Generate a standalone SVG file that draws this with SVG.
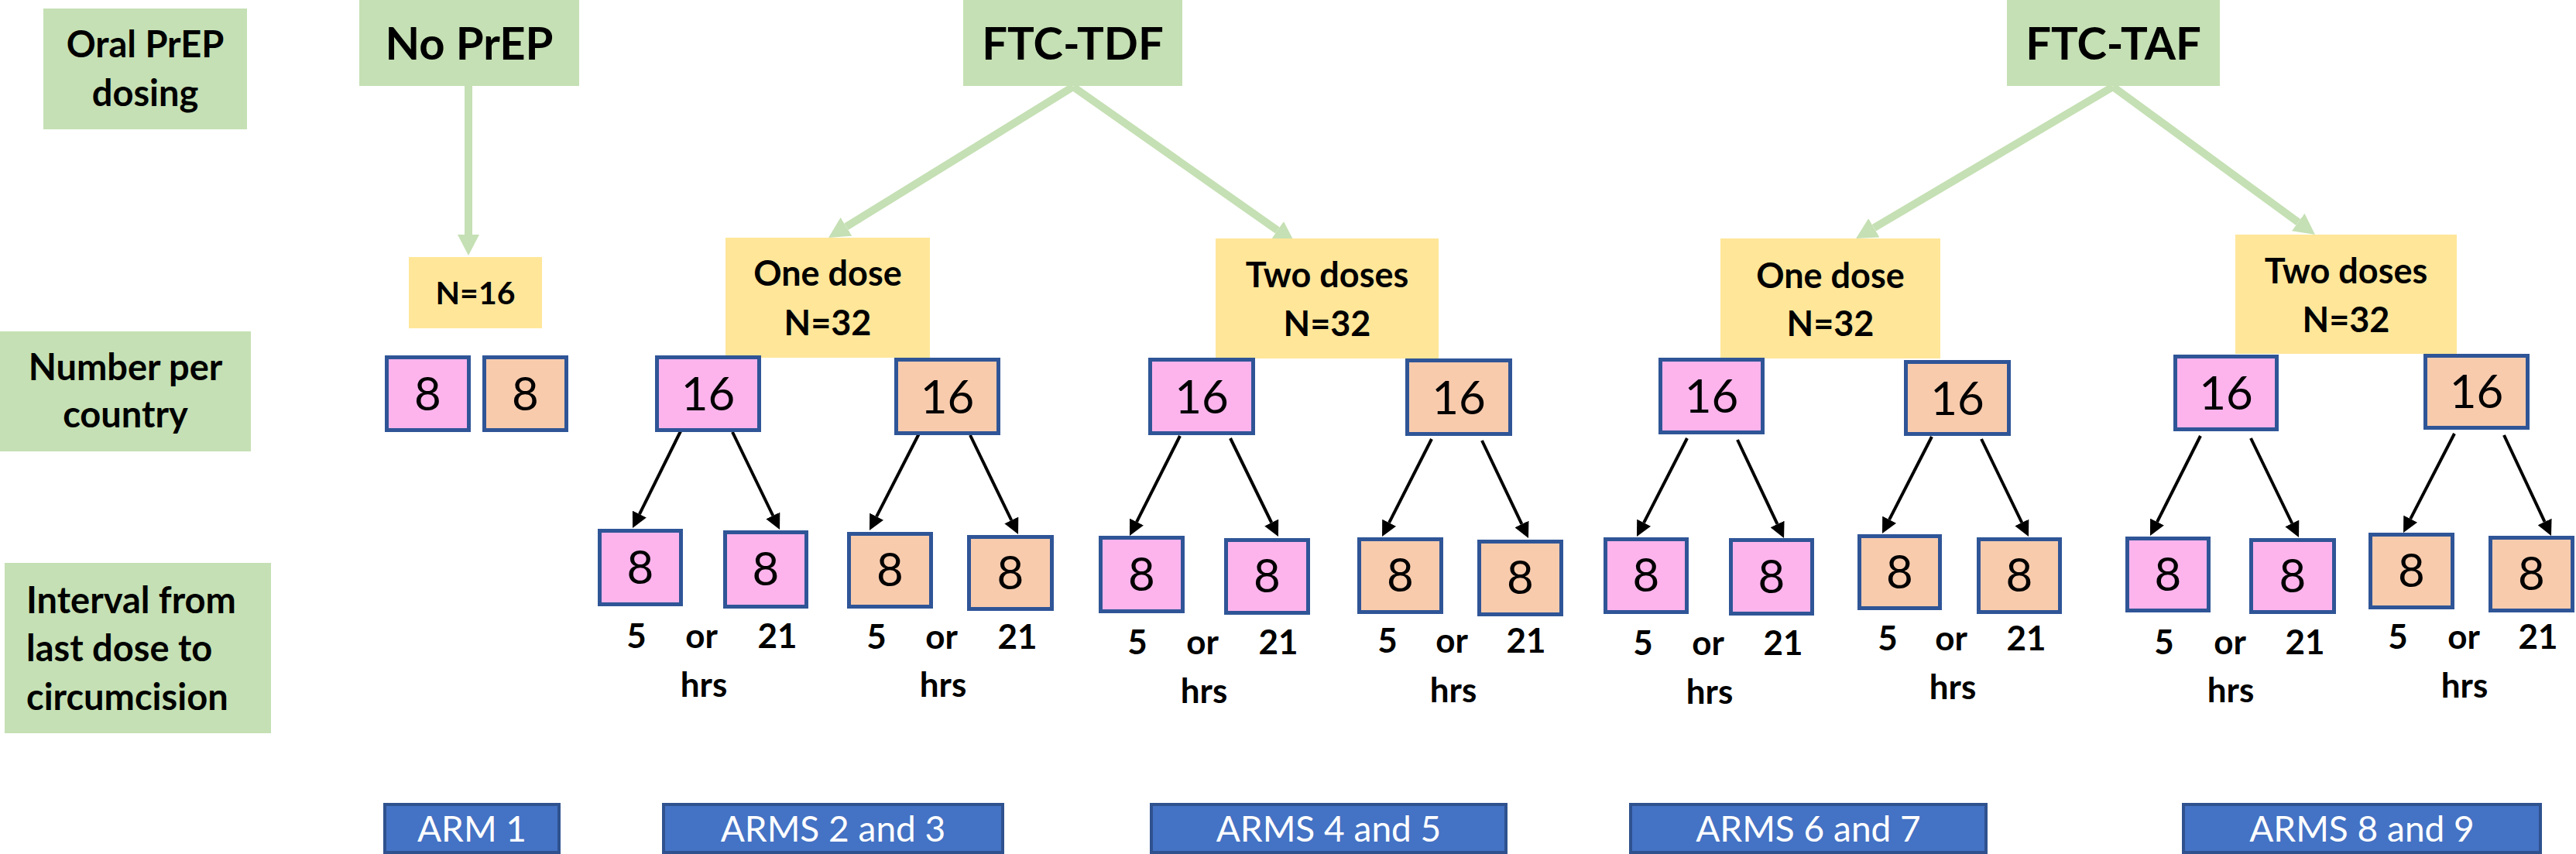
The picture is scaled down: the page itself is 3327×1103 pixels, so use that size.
<svg xmlns="http://www.w3.org/2000/svg" width="3327" height="1103" viewBox="0 0 3327 1103">
<defs>
<style>
.g{fill:#C5E0B4}
.y{fill:#FFE699}
.pk{fill:#FDB4EC;stroke:#2F5597;stroke-width:5}
.pc{fill:#F8CBAD;stroke:#2F5597;stroke-width:5}
.arm{fill:#4472C4;stroke:#2F528F;stroke-width:4}
text{font-family:Lato,"Open Sans","Liberation Sans",sans-serif;fill:#000}
.b{font-weight:700}
.c{text-anchor:middle}
.row{font-size:47px}
.big{font-size:58px}
.ys{font-size:45px}
.num{font-size:60px;text-anchor:middle}
.hr{font-size:44px;font-weight:700;text-anchor:middle}
.at{font-size:46px;fill:#fff;text-anchor:middle}
.ga{stroke:#C5E0B4;stroke-width:10;fill:none}
.ba{stroke:#000;stroke-width:4;fill:none}
</style>
<marker id="gh" markerUnits="userSpaceOnUse" markerWidth="27" markerHeight="28" viewBox="0 0 27 28" refX="0" refY="14" orient="auto"><path d="M0,0 L27,14 L0,28 z" fill="#C5E0B4"/></marker>
<marker id="bh" markerUnits="userSpaceOnUse" markerWidth="20" markerHeight="20" viewBox="0 0 20 20" refX="0" refY="10" orient="auto"><path d="M0,0 L20,10 L0,20 z" fill="#000"/></marker>
</defs>
<rect width="3327" height="1103" fill="#fff"/>

<g id="connectors">
<line class="ga" x1="605" y1="111" x2="605" y2="303" marker-end="url(#gh)"/>
<line class="ga" x1="1386" y1="112" x2="1093" y2="292.8" marker-end="url(#gh)"/>
<line class="ga" x1="1386" y1="112" x2="1649.9" y2="297.5" marker-end="url(#gh)"/>
<line class="ga" x1="2729" y1="112" x2="2420.3" y2="294.3" marker-end="url(#gh)"/>
<line class="ga" x1="2729" y1="112" x2="2968.2" y2="287" marker-end="url(#gh)"/>
<line class="ba" x1="880" y1="555" x2="825.9" y2="664.1" marker-end="url(#bh)"/>
<line class="ba" x1="946" y1="558" x2="998.3" y2="666" marker-end="url(#bh)"/>
<line class="ba" x1="1187" y1="560" x2="1132.1" y2="667.2" marker-end="url(#bh)"/>
<line class="ba" x1="1253" y1="562" x2="1306.3" y2="672" marker-end="url(#bh)"/>
<line class="ba" x1="1524" y1="563" x2="1468" y2="674.1" marker-end="url(#bh)"/>
<line class="ba" x1="1589" y1="566" x2="1642.2" y2="675" marker-end="url(#bh)"/>
<line class="ba" x1="1849" y1="567" x2="1794.1" y2="675.2" marker-end="url(#bh)"/>
<line class="ba" x1="1914" y1="569" x2="1965.4" y2="676.9" marker-end="url(#bh)"/>
<line class="ba" x1="2179" y1="566" x2="2123.1" y2="675.2" marker-end="url(#bh)"/>
<line class="ba" x1="2244" y1="568" x2="2295.5" y2="676.9" marker-end="url(#bh)"/>
<line class="ba" x1="2495" y1="564" x2="2440.1" y2="671.2" marker-end="url(#bh)"/>
<line class="ba" x1="2559" y1="567" x2="2611.3" y2="675" marker-end="url(#bh)"/>
<line class="ba" x1="2842" y1="563" x2="2786" y2="674.1" marker-end="url(#bh)"/>
<line class="ba" x1="2907" y1="566" x2="2960.3" y2="676" marker-end="url(#bh)"/>
<line class="ba" x1="3170" y1="560" x2="3113.2" y2="670.2" marker-end="url(#bh)"/>
<line class="ba" x1="3234" y1="562" x2="3286.5" y2="673.9" marker-end="url(#bh)"/>
</g>

<g id="label-dosing"><rect class="g" x="56" y="11" width="263" height="156"/><text class="b c row" x="187.5" y="74">Oral PrEP</text><text class="b c row" x="187.5" y="137">dosing</text></g>
<g id="label-number"><rect class="g" x="0" y="428" width="324" height="155"/><text class="b c row" x="162" y="491">Number per</text><text class="b c row" x="162" y="552">country</text></g>
<g id="label-interval"><rect class="g" x="6" y="727" width="344" height="220"/><text class="b row" x="34" y="792">Interval from</text><text class="b row" x="34" y="854">last dose to</text><text class="b row" x="34" y="917">circumcision</text></g>

<g id="noprep"><rect class="g" x="464" y="0" width="284" height="111"/><text class="b c big" x="606" y="77">No PrEP</text></g>
<g id="ftc-tdf"><rect class="g" x="1244" y="0" width="283" height="111"/><text class="b c big" x="1385.5" y="77">FTC-TDF</text></g>
<g id="ftc-taf"><rect class="g" x="2592" y="0" width="275" height="111"/><text class="b c big" x="2729.5" y="77">FTC-TAF</text></g>

<g id="n16"><rect class="y" x="528" y="332" width="172" height="92"/><text class="b c" style="font-size:41px" x="614" y="393">N=16</text></g>
<g id="tdf-one"><rect class="y" x="937" y="307" width="264" height="155"/><text class="b c ys" x="1069" y="369">One dose</text><text class="b c ys" x="1069" y="433">N=32</text></g>
<g id="tdf-two"><rect class="y" x="1570" y="308" width="288" height="155"/><text class="b c ys" x="1714" y="371">Two doses</text><text class="b c ys" x="1714" y="434">N=32</text></g>
<g id="taf-one"><rect class="y" x="2222" y="308" width="284" height="155"/><text class="b c ys" x="2364" y="372">One dose</text><text class="b c ys" x="2364" y="434">N=32</text></g>
<g id="taf-two"><rect class="y" x="2887" y="303" width="286" height="154"/><text class="b c ys" x="3030" y="366">Two doses</text><text class="b c ys" x="3030" y="429">N=32</text></g>

<g id="np-a"><rect class="pk" x="499.5" y="461.5" width="106" height="94"/><text class="num" x="552.5" y="530">8</text></g>
<g id="np-b"><rect class="pc" x="625.5" y="461.5" width="106" height="94"/><text class="num" x="678.5" y="530">8</text></g>

<g id="a16"><rect class="pk" x="848.5" y="461.5" width="132" height="94"/><text class="num" x="914.5" y="530">16</text></g>
<g id="b16"><rect class="pc" x="1157.5" y="464.5" width="132" height="95"/><text class="num" x="1223.5" y="534">16</text></g>
<g id="c16"><rect class="pk" x="1485.5" y="464.5" width="133" height="95"/><text class="num" x="1552" y="534">16</text></g>
<g id="d16"><rect class="pc" x="1817.5" y="465.5" width="133" height="95"/><text class="num" x="1884" y="535">16</text></g>
<g id="e16"><rect class="pk" x="2144.5" y="464.5" width="132" height="94"/><text class="num" x="2210.5" y="533">16</text></g>
<g id="f16"><rect class="pc" x="2461.5" y="467.5" width="133" height="93"/><text class="num" x="2528" y="536">16</text></g>
<g id="g16"><rect class="pk" x="2809.5" y="460.5" width="131" height="94"/><text class="num" x="2875" y="529">16</text></g>
<g id="h16"><rect class="pc" x="3132.5" y="459.5" width="132" height="93"/><text class="num" x="3198.5" y="527">16</text></g>

<g id="a1"><rect class="pk" x="774.5" y="685.5" width="105" height="95"/><text class="num" x="827" y="754">8</text></g>
<g id="a2"><rect class="pk" x="936.5" y="687.5" width="105" height="96"/><text class="num" x="989" y="756">8</text></g>
<g id="b1"><rect class="pc" x="1096.5" y="689.5" width="106" height="94"/><text class="num" x="1149.5" y="757">8</text></g>
<g id="b2"><rect class="pc" x="1251.5" y="693.5" width="107" height="93"/><text class="num" x="1305" y="761">8</text></g>
<g id="c1"><rect class="pk" x="1421.5" y="694.5" width="106" height="95"/><text class="num" x="1474.5" y="763">8</text></g>
<g id="c2"><rect class="pk" x="1583.5" y="697.5" width="106" height="94"/><text class="num" x="1636.5" y="765">8</text></g>
<g id="d1"><rect class="pc" x="1755.5" y="696.5" width="106" height="94"/><text class="num" x="1808.5" y="764">8</text></g>
<g id="d2"><rect class="pc" x="1910.5" y="699.5" width="106" height="94"/><text class="num" x="1963.5" y="767">8</text></g>
<g id="e1"><rect class="pk" x="2073.5" y="696.5" width="105" height="94"/><text class="num" x="2126" y="764">8</text></g>
<g id="e2"><rect class="pk" x="2235.5" y="697.5" width="105" height="95"/><text class="num" x="2288" y="766">8</text></g>
<g id="f1"><rect class="pc" x="2401.5" y="692.5" width="104" height="93"/><text class="num" x="2453.5" y="760">8</text></g>
<g id="f2"><rect class="pc" x="2555.5" y="696.5" width="105" height="94"/><text class="num" x="2608" y="764">8</text></g>
<g id="g1"><rect class="pk" x="2747.5" y="695.5" width="105" height="93"/><text class="num" x="2800" y="763">8</text></g>
<g id="g2"><rect class="pk" x="2907.5" y="697.5" width="107" height="93"/><text class="num" x="2961" y="765">8</text></g>
<g id="h1"><rect class="pc" x="3061.5" y="690.5" width="106" height="94"/><text class="num" x="3114.5" y="758">8</text></g>
<g id="h2"><rect class="pc" x="3216.5" y="694.5" width="106" height="94"/><text class="num" x="3269.5" y="762">8</text></g>

<g id="times-a"><text class="hr" x="822" y="837">5</text><text class="hr" x="906" y="837">or</text><text class="hr" x="1004" y="837">21</text><text class="hr" x="909" y="900">hrs</text></g>
<g id="times-b"><text class="hr" x="1132" y="838">5</text><text class="hr" x="1216" y="838">or</text><text class="hr" x="1314" y="838">21</text><text class="hr" x="1218" y="900">hrs</text></g>
<g id="times-c"><text class="hr" x="1469" y="845">5</text><text class="hr" x="1553" y="845">or</text><text class="hr" x="1651" y="845">21</text><text class="hr" x="1555" y="908">hrs</text></g>
<g id="times-d"><text class="hr" x="1792" y="843">5</text><text class="hr" x="1875" y="843">or</text><text class="hr" x="1971" y="843">21</text><text class="hr" x="1877" y="907">hrs</text></g>
<g id="times-e"><text class="hr" x="2122" y="846">5</text><text class="hr" x="2206" y="846">or</text><text class="hr" x="2303" y="846">21</text><text class="hr" x="2208" y="909">hrs</text></g>
<g id="times-f"><text class="hr" x="2438" y="840">5</text><text class="hr" x="2520" y="840">or</text><text class="hr" x="2617" y="840">21</text><text class="hr" x="2522" y="903">hrs</text></g>
<g id="times-g"><text class="hr" x="2795" y="845">5</text><text class="hr" x="2880" y="845">or</text><text class="hr" x="2977" y="845">21</text><text class="hr" x="2881" y="907">hrs</text></g>
<g id="times-h"><text class="hr" x="3097" y="838">5</text><text class="hr" x="3182" y="838">or</text><text class="hr" x="3278" y="838">21</text><text class="hr" x="3183" y="901">hrs</text></g>

<g id="arm1"><rect class="arm" x="497" y="1039" width="225" height="62"/><text class="at" x="609.5" y="1087">ARM 1</text></g>
<g id="arms23"><rect class="arm" x="857" y="1039" width="438" height="62"/><text class="at" x="1076" y="1087">ARMS 2 and 3</text></g>
<g id="arms45"><rect class="arm" x="1487" y="1039" width="458" height="62"/><text class="at" x="1716" y="1087">ARMS 4 and 5</text></g>
<g id="arms67"><rect class="arm" x="2106" y="1039" width="459" height="62"/><text class="at" x="2335.5" y="1087">ARMS 6 and 7</text></g>
<g id="arms89"><rect class="arm" x="2820" y="1039" width="461" height="62"/><text class="at" x="3050.5" y="1087">ARMS 8 and 9</text></g>
</svg>
